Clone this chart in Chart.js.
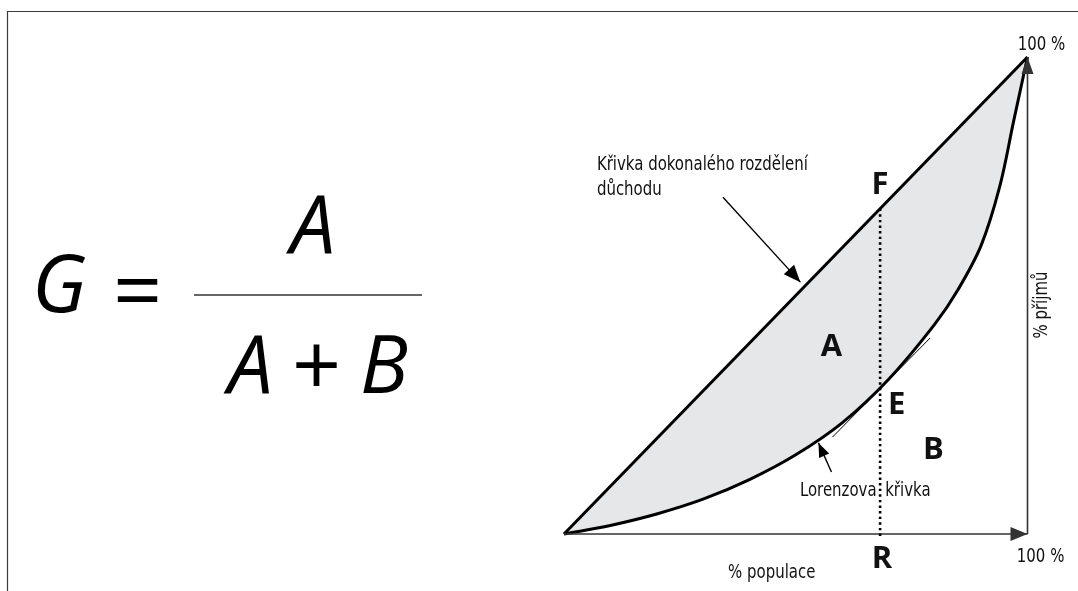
<!DOCTYPE html>
<html lang="cs">
<head>
<meta charset="utf-8">
<title>Giniho koeficient</title>
<script src="https://cdn.jsdelivr.net/npm/chart.js@4.4.1/dist/chart.umd.min.js"></script>
<style>
  html, body { margin: 0; padding: 0; background: #fff; }
  canvas { display: block; }
</style>
</head>
<body>
<canvas id="gini" width="1078" height="591"></canvas>
<script>
// Lorenzova křivka: kumulované % populace (x) a % příjmů (y)
const populace = [0, 10, 20, 30, 40, 50, 60, 70, 80, 85, 90, 94, 97, 100];
const prijmy   = [0, 1.8, 4.2, 7.3, 11.4, 16.6, 23.3, 32.4, 44.0, 51.2, 60.5, 72.8, 86.5, 100];

// přímka dokonalého rozdělení důchodu
const rovnostX = [0, 100];
const rovnostY = [0, 100];

// svislice F – E – R
const bodR = 68.2;
const svisliceY = [68.2, -0.7];

// tečna v bodě E
const tecnaX = [57.9, 79.0];
const tecnaY = [20.3, 41.1];

// odkazové šipky k popiskům
const sipka1X = [34.3, 51.0];
const sipka1Y = [70.6, 52.8];
const sipka2X = [57.7, 54.9];
const sipka2Y = [13.0, 19.1];

// osy
const osaX = [0, 100];
const osaY = [0, 100];

const NARROW = "'Liberation Sans Narrow', 'DejaVu Sans Condensed', 'Roboto', sans-serif";

function body(xs, ys) {
  return xs.map((v, i) => ({ x: v, y: ys[i] }));
}

function hrot(ctx, x1, y1, x2, y2, len, half, color) {
  const ang = Math.atan2(y2 - y1, x2 - x1);
  ctx.save();
  ctx.translate(x2, y2);
  ctx.rotate(ang);
  ctx.fillStyle = color;
  ctx.beginPath();
  ctx.moveTo(0, 0);
  ctx.lineTo(-len, -half);
  ctx.lineTo(-len, half);
  ctx.closePath();
  ctx.fill();
  ctx.restore();
}

const popisky = {
  id: 'popisky',
  beforeDraw(chart) {
    const ctx = chart.ctx;
    ctx.save();
    ctx.fillStyle = '#fff';
    ctx.fillRect(0, 0, chart.width, chart.height);
    // rámeček
    ctx.strokeStyle = '#3a3a3a';
    ctx.lineWidth = 1.2;
    ctx.beginPath();
    ctx.moveTo(7.5, chart.height);
    ctx.lineTo(7.5, 11.5);
    ctx.lineTo(chart.width, 11.5);
    ctx.stroke();
    ctx.restore();
  },
  afterDatasetsDraw(chart) {
    const ctx = chart.ctx;
    const sx = chart.scales.x, sy = chart.scales.y;

    // hroty šipek
    chart.data.datasets.forEach((ds, i) => {
      if (!ds.sipka) return;
      const pts = chart.getDatasetMeta(i).data;
      const a = pts[pts.length - 2], b = pts[pts.length - 1];
      hrot(ctx, a.x, a.y, b.x, b.y, ds.sipka[0], ds.sipka[1], ds.borderColor);
    });

    ctx.save();
    ctx.fillStyle = '#111';
    ctx.textBaseline = 'alphabetic';
    const txt = (s, xv, yv, font, align, k) => {
      ctx.save();
      ctx.font = font;
      ctx.textAlign = align || 'left';
      ctx.translate(sx.getPixelForValue(xv), sy.getPixelForValue(yv));
      ctx.scale(k || 1, 1);
      ctx.fillText(s, 0, 0);
      ctx.restore();
    };

    // velká písmena v grafu
    const bold = "bold 31px 'Open Sans', sans-serif";
    txt('F', bodR, 71.3, bold, 'center');
    txt('A', 57.7, 37.3, bold, 'center');
    txt('E', 69.9, 25.2, bold, 'left');
    txt('B', 79.7, 15.7, bold, 'center');
    txt('R', 68.6, -7.1, bold, 'center');

    // popisky (úzké písmo)
    const n19 = '19px ' + NARROW;
    const k = 0.875;
    txt('Křivka dokonalého rozdělení', 7.1, 76.3, n19, 'left', k);
    txt('důchodu', 7.1, 71.1, n19, 'left', k);
    txt('Lorenzova', 50.9, 8.0, n19, 'left', k);
    txt('křivka', 69.3, 8.0, n19, 'left', k);
    txt('% populace', 35.4, -9.2, n19, 'left', k);
    txt('100 %', 97.7, -5.9, n19, 'left', k);
    txt('100 %', 97.9, 101.5, n19, 'left', k);

    // svislý popis osy
    ctx.save();
    ctx.translate(sx.getPixelForValue(103.2), sy.getPixelForValue(48));
    ctx.rotate(-Math.PI / 2);
    ctx.scale(k, 1);
    ctx.font = n19;
    ctx.textAlign = 'center';
    ctx.textBaseline = 'middle';
    ctx.fillText('% příjmů', 0, 0);
    ctx.restore();

    // vzorec
    const it = "italic 80px 'Open Sans', sans-serif";
    ctx.fillStyle = '#000';
    ctx.textAlign = 'left';
    ctx.font = it;
    ctx.fillText('G', 32, 312);
    ctx.font = "86px 'Open Sans', sans-serif";
    ctx.fillText('=', 113, 321);
    ctx.strokeStyle = '#333';
    ctx.lineWidth = 1.4;
    ctx.beginPath();
    ctx.moveTo(194, 295);
    ctx.lineTo(422, 295);
    ctx.stroke();
    ctx.textAlign = 'center';
    ctx.font = it;
    ctx.fillText('A', 313, 253);
    ctx.textAlign = 'left';
    ctx.fillText('A', 228, 393);
    ctx.font = "86px 'Open Sans', sans-serif";
    ctx.fillText('+', 292, 396);
    ctx.font = it;
    ctx.fillText('B', 360, 393);
    ctx.restore();
  }
};

const line = (data, extra) => Object.assign({
  data,
  borderColor: '#000',
  borderWidth: 1.3,
  pointRadius: 0,
  fill: false,
  clip: false,
  tension: 0
}, extra);

new Chart(document.getElementById('gini'), {
  type: 'line',
  data: {
    datasets: [
      line(body([bodR, bodR], svisliceY), { borderWidth: 2.6, borderDash: [2.4, 3.2] }),
      line(body(tecnaX, tecnaY), { borderWidth: 1 }),
      line(body(sipka1X, sipka1Y), { borderWidth: 1.4, sipka: [17, 7] }),
      line(body(sipka2X, sipka2Y), { borderWidth: 1.4, sipka: [14, 5.5] }),
      line(body(osaX, [0, 0]), { borderColor: '#333', borderWidth: 1.6, sipka: [17, 7] }),
      line(body([100, 100], osaY), { borderColor: '#333', borderWidth: 1.6, sipka: [17, 6] }),
      line(body(rovnostX, rovnostY), { borderWidth: 3 }),
      line(body(populace, prijmy), {
        borderWidth: 3,
        tension: 0.35,
        fill: 6,
        backgroundColor: '#e6e7e8'
      })
    ]
  },
  options: {
    responsive: false,
    animation: false,
    events: [],
    layout: { padding: { left: 564, right: 50.5, top: 57, bottom: 57 } },
    scales: {
      x: { type: 'linear', min: 0, max: 100, display: false },
      y: { type: 'linear', min: 0, max: 100, display: false }
    },
    plugins: {
      legend: { display: false },
      tooltip: { enabled: false }
    }
  },
  plugins: [popisky]
});
</script>
</body>
</html>
